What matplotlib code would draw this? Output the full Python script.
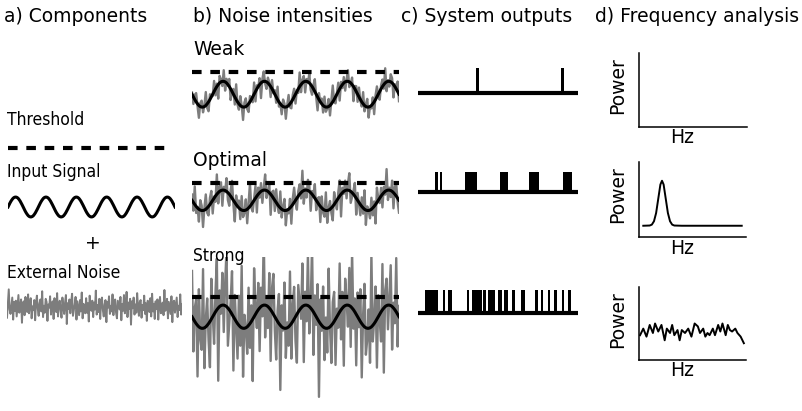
import numpy as np
import matplotlib
matplotlib.use('Agg')
import matplotlib.pyplot as plt
from matplotlib import font_manager

# --- DATA ---
# one cycle of the input signal (starts at zero, going down)
signal_cycle = [0, -0.21, -0.41, -0.59, -0.74, -0.87, -0.95, -0.99, -0.99, -0.95,
                -0.87, -0.74, -0.59, -0.41, -0.21, 0, 0.21, 0.41, 0.59, 0.74,
                0.87, 0.95, 0.99, 0.99, 0.95, 0.87, 0.74, 0.59, 0.41, 0.21]
threshold = 1.7

# external noise samples (unit intensity)
noise_base = [
    0.3, -1.2, 0.8, 1.5, -0.4, -2.1, 0.6, 1.1, -0.9, 0.2,
    2.3, -0.7, -1.6, 0.9, 0.1, -0.3, 1.8, -1.1, 0.5, -2.4,
    1.2, 0.4, -0.8, 1.9, -1.5, 0.7, -0.2, 1.3, -1.9, 0.0,
    0.9, -1.3, 2.6, -0.5, -1.0, 1.6, 0.2, -2.2, 0.8, 1.4,
    -0.6, -1.4, 1.0, 0.3, -0.9, 2.0, -1.7, 0.6, -0.1, 1.1,
    -2.6, 0.5, 1.7, -0.4, -1.2, 0.9, 0.4, -1.8, 1.5, -0.3,
    0.7, -1.0, 2.2, -0.8, 0.1, -1.5, 1.2, 0.6, -2.0, 0.3,
    1.8, -0.6, -1.1, 0.8, 1.4, -1.6, 0.2, -0.7, 2.4, -1.3,
    0.5, 1.0, -1.9, 0.4, -0.2, 1.6, -0.9, -1.4, 0.7, 2.1,
    -0.5, -2.3, 1.1, 0.0, 0.9, -1.2, 1.7, -0.8, -0.3, 1.3,
    -1.7, 0.6, 2.8, -0.4, -1.1, 0.2, 1.5, -2.0, 0.8, -0.6,
    1.0, -1.5, 0.3, 1.9, -0.9, -0.1, 1.2, -2.5, 0.5, 0.9,
    -1.3, 1.6, -0.2, -0.8, 2.0, -1.0, 0.4, 1.4, -1.8, 0.1,
    -0.5, 1.1, -2.1, 0.7, 1.8, -0.3, -1.4, 0.6, 1.2, -0.7,
    2.5, -1.6, 0.2, -0.9, 1.3, 0.8, -2.2, 0.4, -0.1, 1.7,
    -1.2, 0.5, 0.9, -1.9, 1.4, -0.4, -0.8, 2.2, -1.5, 0.3,
    1.0, -0.6, -1.7, 1.5, 0.1, -1.1, 0.7, 1.9, -2.7, 0.6,
    -0.3, 1.2, -1.0, 0.8, 2.1, -1.4, -0.5, 0.4, 1.6, -2.0,
    0.9, -0.2, -1.3, 1.1, -0.7, 2.3, -1.8, 0.5, 0.0, -1.0,
    1.4, -0.9, 0.6, -2.3, 1.8, 0.2, -0.6, 1.0, -1.6, 0.7,
    -0.4, 2.6, -1.2, 0.3, -0.8, 1.3, -1.9, 0.9, 1.5, -0.5,
    -1.5, 0.4, 1.1, -2.4, 0.8, -0.1, 1.7, -1.1, 0.2, -0.7,
    2.0, -1.3, 0.6, 1.2, -0.9, -1.8, 1.0, 0.3, -0.4, 1.6,
    -2.1, 0.5, -0.6, 1.9, -1.0, 0.1, 2.4, -1.6, 0.7, -0.3,
    1.3, -2.8, 0.9, -0.2, 1.5, -1.2, 0.4, -0.9, 2.2, 0.0,
    -1.4, 0.8, 1.1, -1.7, 0.3, -0.5, 1.8, -1.1, 0.6, -2.2,
    1.0, 0.2, -0.8, 1.4, -1.5, 2.1, -0.7, 0.5, -1.9, 0.9,
    -0.3, 1.2, -2.0, 0.4, 1.6, -1.0, -0.4, 0.7, -1.3, 2.7,
    -0.6, 0.1, 1.3, -1.8, 0.8, -0.2, -1.1, 1.7, -2.4, 0.6,
    1.0, -0.9, 0.3, 1.5, -1.6, 0.2, -0.5, 2.0, -1.2, 0.4,
]

intensity_names = ['Weak', 'Optimal', 'Strong']
intensity_levels = [0.45, 0.8, 2.3]

# system outputs: start / end of each output pulse (time units 0-160)
weak_on = [58, 143]
weak_off = [61, 146]
optimal_on = [17, 22, 47, 82, 111, 145]
optimal_off = [20, 24, 59, 90, 121, 154]
strong_on = [7, 25, 30, 49, 54, 65, 70, 80, 86, 94, 103, 117, 123, 130, 136, 144, 150]
strong_off = [20, 27, 34, 51, 64, 68, 77, 84, 90, 97, 107, 120, 125, 132, 139, 146, 153]

# power spectra
peak_freq = [4, 10, 12, 14, 16, 18, 20, 21.5, 23, 25, 27, 29, 31, 33, 40, 96]
peak_power = [0.15, 0.153, 0.165, 0.21, 0.32, 0.51, 0.70, 0.75, 0.70, 0.51, 0.32,
              0.21, 0.165, 0.153, 0.15, 0.15]
flat_freq = [1, 4, 7, 10, 13, 15, 18, 21, 24, 26, 29, 31, 33, 36, 38, 40, 43, 46, 49,
             52, 55, 57, 60, 62, 64, 66, 69, 71, 74, 76, 78, 81, 83, 85, 87, 90, 92, 95, 98]
flat_power = [0.34, 0.43, 0.32, 0.48, 0.37, 0.50, 0.39, 0.48, 0.27, 0.43, 0.37, 0.48, 0.34,
              0.41, 0.27, 0.41, 0.37, 0.43, 0.32, 0.50, 0.46, 0.37, 0.43, 0.32, 0.37, 0.34,
              0.43, 0.34, 0.48, 0.39, 0.50, 0.34, 0.48, 0.41, 0.39, 0.43, 0.37, 0.32, 0.23]

# --- FIGURE ---
W, H = 803, 411
fig = plt.figure(figsize=(W / 100, H / 100), dpi=100)
GRAY = '#7d7d7d'
FS = 13.5
DASH = (2.3, 2.1)

names = {(f.name, f.stretch) for f in font_manager.fontManager.ttflist}
if any(n == 'Liberation Sans Narrow' for n, _ in names):
    narrow = dict(family='Liberation Sans Narrow', fontsize=14)
elif ('DejaVu Sans', 'condensed') in names:
    narrow = dict(family='DejaVu Sans', fontstretch='condensed', fontsize=12.5)
else:
    narrow = dict(family='Liberation Sans', fontsize=12)


def px_axes(x0, x1, y_top, y_bot):
    return fig.add_axes([x0 / W, 1 - y_bot / H, (x1 - x0) / W, (y_bot - y_top) / H])


def value_axes(x0, x1, y0, scale, above, below):
    # axes where value 0 sits at pixel row y0 and 1 unit = scale pixels
    ax = px_axes(x0, x1, y0 - above, y0 + below)
    ax.set_ylim(-below / scale, above / scale)
    ax.axis('off')
    return ax


def label(x, y, s, **kw):
    fig.text(x / W, 1 - y / H, s, va='baseline', **kw)


# titles
label(4, 22, 'a) Components', fontsize=FS)
label(193, 22, 'b) Noise intensities', fontsize=FS)
label(401, 22, 'c) System outputs', fontsize=FS)
label(595, 22, 'd) Frequency analysis', fontsize=FS)

# --- a) Components ---
label(7, 125, 'Threshold', **narrow)
ax = value_axes(8, 172, 148, 10, 5, 5)
ax.set_ylim(threshold - 0.5, threshold + 0.5)
ax.axhline(threshold, color='k', lw=3, dashes=DASH)

label(7, 177, 'Input Signal', **narrow)
sig_a = np.tile(signal_cycle, 7)[15:181]
ax = value_axes(8, 175, 207, 10, 16, 16)
ax.plot(np.arange(len(sig_a)), sig_a, color='k', lw=2.2)
ax.set_xlim(0, len(sig_a) - 1)

fig.text(93 / W, 1 - 243 / H, '+', fontsize=FS, ha='center', va='center')

label(7, 278, 'External Noise', **narrow)
noise_a = np.array(noise_base[100:300])
ax = value_axes(7, 182, 307, 6.3, 20, 20)
ax.plot(np.arange(len(noise_a)), noise_a, color=GRAY, lw=1.4)
ax.set_xlim(0, len(noise_a) - 1)

# --- b) Noise intensities ---
signal_b = np.append(np.tile(signal_cycle, 5), 0)
t_b = np.arange(len(signal_b))
b_layout = [(55, 94.2, 13.0, 0), (166, 200.3, 10.3, 60), (260.7, 316.7, 11.7, 149)]
for name, k, (y_txt, yc, sc, i0) in zip(intensity_names, intensity_levels, b_layout):
    lab_kw = narrow if name == 'Strong' else dict(fontsize=FS)
    label(193, y_txt, name, **lab_kw)
    noise = np.array(noise_base[i0:i0 + len(signal_b)])
    ax = value_axes(192, 399, yc, sc, 60, 95)
    ax.plot(t_b, signal_b + k * noise, color=GRAY, lw=1.7)
    ax.plot(t_b, signal_b, color='k', lw=2.2)
    ax.axhline(threshold, color='k', lw=3, dashes=DASH)
    ax.set_xlim(0, len(signal_b) - 1)

# --- c) System outputs ---
c_layout = [(93, 25), (192, 20), (313, 23)]
outputs = [(weak_on, weak_off), (optimal_on, optimal_off), (strong_on, strong_off)]
for (y0, sc), (on, off) in zip(c_layout, outputs):
    ax = value_axes(418, 578, y0, sc, sc + 4, 4)
    ax.axhline(0, color='k', lw=3)
    ax.bar(on, 1, width=np.array(off) - np.array(on), align='edge', color='k', linewidth=0)
    ax.set_xlim(0, 160)

# --- d) Frequency analysis ---
d_rects = [(639, 747, 53, 127), (639, 746, 162, 237), (639, 746, 287, 360)]
spectra = [None, (peak_freq, peak_power), (flat_freq, flat_power)]
for (x0, x1, yt, yb), spec in zip(d_rects, spectra):
    ax = px_axes(x0, x1, yt, yb)
    if spec is not None:
        ax.plot(spec[0], spec[1], color='k', lw=1.4)
    ax.set_xlim(0, 100)
    ax.set_ylim(0, 1)
    for side in ['top', 'right']:
        ax.spines[side].set_visible(False)
    for side in ['left', 'bottom']:
        ax.spines[side].set_linewidth(1.1)
    ax.set_xticks([])
    ax.set_yticks([])
    ax.set_xlabel('Hz', fontsize=FS)
    ax.set_ylabel('Power', fontsize=FS)
    ax.xaxis.set_label_coords(0.4, -0.02)
    ax.yaxis.set_label_coords(-0.11, 0.56)

fig.savefig('out.png', dpi=100)
